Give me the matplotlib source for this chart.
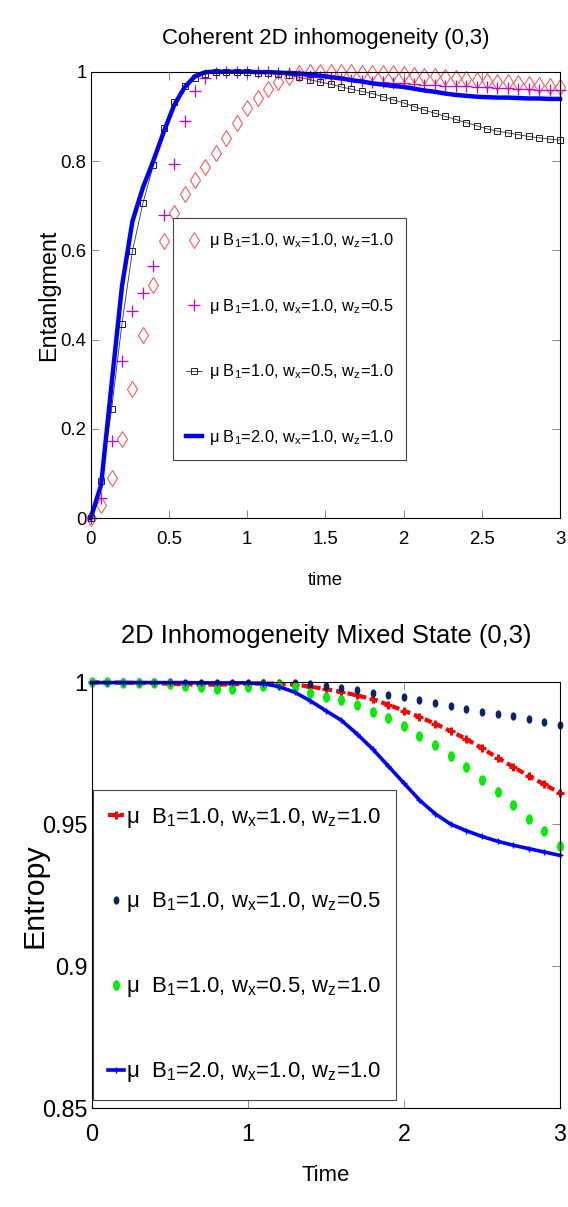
import numpy as np
import matplotlib
matplotlib.use("Agg")
import matplotlib.pyplot as plt
from matplotlib import font_manager as fm
from matplotlib.path import Path
from matplotlib.transforms import Affine2D
from matplotlib.ticker import FormatStrFormatter

# fonts: narrow helvetica-like if we have it
avail = {f.name for f in fm.fontManager.ttflist}
FONT = "Liberation Sans Narrow" if "Liberation Sans Narrow" in avail else "Liberation Sans"
SC = 1.0 if FONT == "Liberation Sans Narrow" else 0.84
plt.rcParams["font.family"] = [FONT, "DejaVu Sans"]
plt.rcParams["mathtext.fontset"] = "custom"
plt.rcParams["mathtext.rm"] = FONT
plt.rcParams["mathtext.it"] = FONT
plt.rcParams["mathtext.sf"] = FONT

# ---- top panel: entanglement, sampled every 1/15 in time ----
t_top = np.linspace(0, 3, 46)
ent_diamond = [0, 0.03, 0.091, 0.178, 0.29, 0.41, 0.522, 0.62, 0.683, 0.726,
               0.757, 0.786, 0.819, 0.851, 0.886, 0.918, 0.941, 0.962, 0.976, 0.988,
               0.996, 1.0, 1.0, 1.0, 1.0, 0.999, 0.998, 0.997, 0.998, 0.997,
               0.995, 0.993, 0.991, 0.990, 0.988, 0.986, 0.984, 0.982, 0.980, 0.978,
               0.976, 0.974, 0.972, 0.970, 0.968, 0.965]
ent_plus = [0, 0.045, 0.174, 0.352, 0.465, 0.504, 0.566, 0.679, 0.794, 0.889,
            0.956, 0.987, 0.998, 1.0, 1.0, 1.0, 1.0, 1.0, 0.998, 0.996,
            0.993, 0.990, 0.988, 0.986, 0.984, 0.982, 0.980, 0.978, 0.977, 0.975,
            0.974, 0.972, 0.971, 0.970, 0.969, 0.968, 0.967, 0.966, 0.965, 0.964,
            0.963, 0.962, 0.961, 0.960, 0.959, 0.958]
ent_square = [0, 0.084, 0.244, 0.436, 0.598, 0.705, 0.79, 0.873, 0.932, 0.968,
              0.985, 0.995, 0.999, 1.0, 1.0, 0.999, 0.998, 0.997, 0.995, 0.992,
              0.988, 0.982, 0.977, 0.972, 0.966, 0.961, 0.956, 0.951, 0.944, 0.937,
              0.930, 0.922, 0.914, 0.907, 0.900, 0.893, 0.886, 0.879, 0.872, 0.867,
              0.863, 0.859, 0.855, 0.852, 0.849, 0.847]
ent_blue = [0, 0.075, 0.30, 0.52, 0.665, 0.74, 0.80, 0.865, 0.925, 0.965,
            0.99, 0.999, 1.0, 1.0, 1.0, 1.0, 0.999, 0.999, 0.998, 0.997,
            0.996, 0.994, 0.991, 0.988, 0.985, 0.981, 0.978, 0.974, 0.971, 0.968,
            0.966, 0.962, 0.958, 0.955, 0.951, 0.948, 0.946, 0.944, 0.943, 0.942,
            0.942, 0.941, 0.940, 0.940, 0.939, 0.939]

# ---- bottom panel: entropy, sampled every 0.1 ----
t_bot = np.linspace(0, 3, 31)
s_red = [1.0, 1.0, 0.9999, 0.9998, 0.9997, 0.9995, 0.9993, 0.9992, 0.9992, 0.9993,
         0.9995, 0.9996, 0.9995, 0.9992, 0.9985, 0.9976, 0.9966, 0.9954, 0.994, 0.9921,
         0.990, 0.9878, 0.9854, 0.9828, 0.980, 0.9768, 0.9734, 0.9702, 0.967, 0.964, 0.961]
s_navy = [1.0, 1.0, 1.0, 1.0, 1.0, 1.0, 0.9999, 0.9999, 0.9999, 0.9999,
          0.9999, 0.9999, 0.9998, 0.9997, 0.9995, 0.9988, 0.9981, 0.9972, 0.9963, 0.9956,
          0.9949, 0.9938, 0.9926, 0.9915, 0.9905, 0.9897, 0.9889, 0.988, 0.987, 0.986, 0.985]
s_green = [1.0, 1.0, 0.9999, 0.9998, 0.9996, 0.9993, 0.9988, 0.9982, 0.9978, 0.9978,
           0.9982, 0.9988, 0.999, 0.9985, 0.9963, 0.9949, 0.9937, 0.992, 0.9897, 0.9874,
           0.9847, 0.9812, 0.9778, 0.974, 0.970, 0.9657, 0.9613, 0.9566, 0.952, 0.9476, 0.9425]
s_blue = [0.9999, 0.9999, 0.9999, 0.9999, 0.9999, 0.9999, 0.9999, 0.9998, 0.9998, 0.9998,
          0.9998, 0.9995, 0.9985, 0.9965, 0.9935, 0.990, 0.9866, 0.9818, 0.9765, 0.9705,
          0.9645, 0.9585, 0.9537, 0.950, 0.9477, 0.9457, 0.944, 0.9426, 0.9414, 0.9402, 0.939]

lab_top = [r"μ $\mathrm{B}_1$=1.0, $\mathrm{w}_x$=1.0, $\mathrm{w}_z$=1.0",
           r"μ $\mathrm{B}_1$=1.0, $\mathrm{w}_x$=1.0, $\mathrm{w}_z$=0.5",
           r"μ $\mathrm{B}_1$=1.0, $\mathrm{w}_x$=0.5, $\mathrm{w}_z$=1.0",
           r"μ $\mathrm{B}_1$=2.0, $\mathrm{w}_x$=1.0, $\mathrm{w}_z$=1.0"]
lab_bot = [s.replace("μ ", "μ  ") for s in lab_top]

fig = plt.figure(figsize=(5.68, 12.07), dpi=100)
ax1 = fig.add_axes([0.1597, 0.5706, 0.8262, 0.370])
ax2 = fig.add_axes([0.1614, 0.0820, 0.8245, 0.3527])

# top
ax1.plot(t_top, ent_diamond, ls="none", marker="d", ms=8, mfc="none", mec="#ff5a5a",
         mew=0.8, label=lab_top[0], clip_on=False)
ax1.plot(t_top, ent_plus, ls="none", marker="+", ms=8, color="#cc00cc", mew=0.9,
         label=lab_top[1], clip_on=False)
ax1.plot(t_top, ent_square, color="#333333", lw=0.6, marker="s", ms=5, mfc="none",
         mec="#222222", mew=0.7, label=lab_top[2], clip_on=False)
ax1.plot(t_top, ent_blue, color="#0000ff", lw=3.2, label=lab_top[3], clip_on=False)
ax1.set_xlim(0, 3)
ax1.set_ylim(0, 1)
ax1.set_xticks(np.arange(0, 3.01, 0.5))
ax1.set_yticks(np.arange(0, 1.01, 0.2))
ax1.xaxis.set_major_formatter(FormatStrFormatter("%g"))
ax1.yaxis.set_major_formatter(FormatStrFormatter("%g"))
ax1.tick_params(direction="in", top=True, right=True, length=6, width=0.7,
                labelsize=16 * SC, color="#888888")
ax1.tick_params(axis="x", pad=9)
ax1.tick_params(axis="y", pad=3)
ax1.set_title("Coherent 2D inhomogeneity (0,3)", fontsize=19 * SC, pad=20)
ax1.set_xlabel("time", fontsize=16 * SC)
ax1.set_ylabel("Entanlgment", fontsize=20 * SC)
ax1.xaxis.set_label_coords(0.5, -0.12)
ax1.yaxis.set_label_coords(-0.066, 0.5)
leg1 = ax1.legend(loc="upper left", bbox_to_anchor=(0.1747, 0.672), borderaxespad=0,
                  fontsize=14 * SC, fancybox=False, edgecolor="#444444", framealpha=1,
                  handlelength=1.0, handletextpad=0.4, labelspacing=2.85, borderpad=0.8)
leg1.get_frame().set_linewidth(0.8)

# bottom
ell = Path.unit_circle().transformed(Affine2D().scale(0.62, 1.0))
ax2.plot(t_bot, s_red, color="#ff0000", lw=3, ls="--", dashes=(1.8, 1.0), marker="+",
         ms=6, mew=2.2, label=lab_bot[0], clip_on=False)
ax2.plot(t_bot, s_navy, ls="none", marker=ell, ms=5, color="#0b2466",
         label=lab_bot[1], clip_on=False)
ax2.plot(t_bot, s_green, ls="none", marker=ell, ms=6.5, color="#00ee00",
         label=lab_bot[2], clip_on=False)
ax2.plot(t_bot, s_blue, color="#0000ff", lw=2.6, marker="+", ms=4, mew=1,
         label=lab_bot[3], clip_on=False)
ax2.set_xlim(0, 3)
ax2.set_ylim(0.85, 1)
ax2.set_xticks([0, 1, 2, 3])
ax2.set_yticks([0.85, 0.9, 0.95, 1])
ax2.xaxis.set_major_formatter(FormatStrFormatter("%g"))
ax2.yaxis.set_major_formatter(FormatStrFormatter("%g"))
ax2.tick_params(direction="in", top=True, right=True, length=6, width=0.7,
                labelsize=20 * SC, color="#888888")
ax2.tick_params(axis="x", pad=11)
ax2.tick_params(axis="y", pad=3)
ax2.set_title("2D Inhomogeneity Mixed State (0,3)", fontsize=22 * SC, pad=28)
ax2.set_xlabel("Time", fontsize=19 * SC)
ax2.set_ylabel("Entropy", fontsize=26 * SC)
ax2.xaxis.set_label_coords(0.5, -0.134)
ax2.yaxis.set_label_coords(-0.093, 0.5)
leg2 = ax2.legend(loc="upper left", bbox_to_anchor=(0.002, 0.747), borderaxespad=0,
                  fontsize=19 * SC, fancybox=False, edgecolor="#444444", framealpha=1,
                  handlelength=0.7, handletextpad=0.1, labelspacing=2.75, borderpad=0.7)
leg2.get_frame().set_linewidth(0.8)

for ax in (ax1, ax2):
    for sp in ax.spines.values():
        sp.set_linewidth(0.8)

fig.savefig("out.png", dpi=100)
